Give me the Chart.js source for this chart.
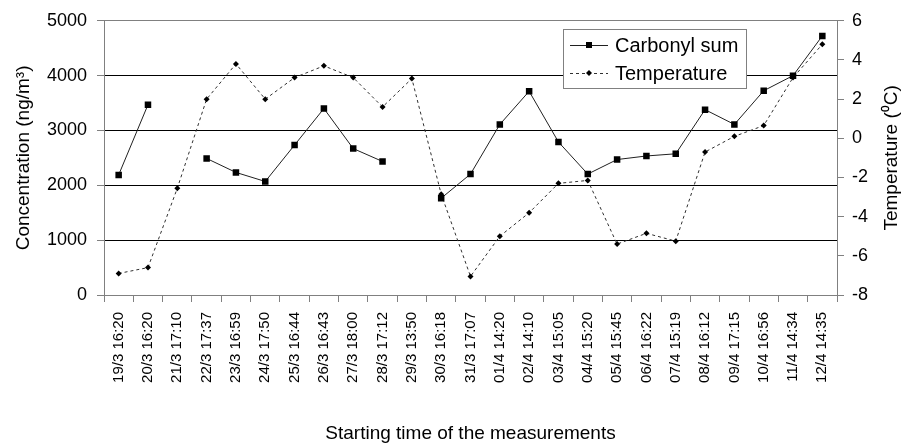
<!DOCTYPE html>
<html>
<head>
<meta charset="utf-8">
<script src="https://cdn.jsdelivr.net/npm/chart.js@4"></script>
<style>
  html, body { margin: 0; padding: 0; background: #fff; }
  #wrap { width: 902px; height: 445px; }
</style>
</head>
<body>
<div id="wrap"><canvas id="chart" width="902" height="445"></canvas></div>
<script>
// Horarios de inicio de cada medición
const categories = [
  '19/3 16:20', '20/3 16:20', '21/3 17:10', '22/3 17:37', '23/3 16:59',
  '24/3 17:50', '25/3 16:44', '26/3 16:43', '27/3 18:00', '28/3 17:12',
  '29/3 13:50', '30/3 16:18', '31/3 17:07', '01/4 14:20', '02/4 14:10',
  '03/4 15:05', '04/4 15:20', '05/4 15:45', '06/4 16:22', '07/4 15:19',
  '08/4 16:12', '09/4 17:15', '10/4 16:56', '11/4 14:34', '12/4 14:35'
];

// Suma de carbonilos (ng/m3), null = sin medición
const carbonylSum = [
  2190, 3470, null, 2490, 2235, 2070, 2735, 3400, 2670, 2435,
  null, 1765, 2205, 3110, 3715, 2790, 2205, 2470, 2535, 2575,
  3380, 3110, 3725, 4000, 4725
];

// Temperatura (°C)
const temperature = [
  -6.9, -6.6, -2.55, 2.0, 3.8, 2.0, 3.1, 3.7, 3.1, 1.6,
  3.05, -2.85, -7.05, -5.0, -3.8, -2.3, -2.15, -5.4, -4.85, -5.25,
  -0.7, 0.1, 0.65, 3.1, 4.8
];

const leftTicks = { min: 0, max: 5000, step: 1000 };
const rightTicks = { min: -8, max: 6, step: 2 };

const FONT = '"Liberation Sans", Arial, sans-serif';
const axisGray = '#808080';

// Leyenda dibujada dentro del área del gráfico
const legendBox = {
  id: 'legendBox',
  afterDraw(chart) {
    const ctx = chart.ctx;
    const x = 563, y = 29, w = 183, h = 59;
    ctx.save();
    ctx.fillStyle = '#fff';
    ctx.fillRect(x, y, w, h);
    ctx.strokeStyle = axisGray;
    ctx.lineWidth = 1;
    ctx.strokeRect(x + 0.5, y + 0.5, w, h);

    chart.data.datasets.forEach((ds, i) => {
      const cy = y + 16 + i * 28;
      ctx.strokeStyle = ds.borderColor;
      ctx.lineWidth = 1;
      ctx.setLineDash(ds.borderDash || []);
      ctx.beginPath();
      ctx.moveTo(570, cy + 0.5);
      ctx.lineTo(608, cy + 0.5);
      ctx.stroke();
      ctx.setLineDash([]);
      ctx.fillStyle = '#000';
      if (ds.pointStyle === 'rect') {
        ctx.fillRect(586, cy - 3, 6, 6);
      } else {
        ctx.beginPath();
        ctx.moveTo(589, cy - 3);
        ctx.lineTo(592, cy);
        ctx.lineTo(589, cy + 3);
        ctx.lineTo(586, cy);
        ctx.closePath();
        ctx.fill();
      }
      ctx.fillStyle = '#000';
      ctx.font = '20px ' + FONT;
      ctx.textAlign = 'left';
      ctx.textBaseline = 'middle';
      ctx.fillText(ds.label, 615, cy + 1);
    });
    ctx.restore();
  }
};

// Título del eje derecho, leído de abajo hacia arriba
const rightTitle = {
  id: 'rightTitle',
  afterDraw(chart) {
    const ctx = chart.ctx;
    const area = chart.chartArea;
    ctx.save();
    ctx.translate(892, (area.top + area.bottom) / 2);
    ctx.rotate(-Math.PI / 2);
    ctx.fillStyle = '#000';
    ctx.font = '19px ' + FONT;
    ctx.textAlign = 'center';
    ctx.textBaseline = 'middle';
    ctx.fillText('Temperature (\u2070C)', 0, 0);
    ctx.restore();
  }
};

new Chart(document.getElementById('chart'), {
  type: 'line',
  data: {
    labels: categories,
    datasets: [{
      label: 'Carbonyl sum',
      data: carbonylSum,
      yAxisID: 'y',
      borderColor: '#202020',
      borderWidth: 1,
      pointStyle: 'rect',
      pointRadius: 4.6,
      pointBackgroundColor: '#000',
      pointBorderColor: '#000',
      pointBorderWidth: 0,
      spanGaps: false,
      tension: 0
    }, {
      label: 'Temperature',
      data: temperature,
      yAxisID: 'y1',
      borderColor: '#303030',
      borderWidth: 1,
      borderDash: [3, 3],
      pointStyle: 'rectRot',
      pointRadius: 3,
      pointBackgroundColor: '#000',
      pointBorderColor: '#000',
      pointBorderWidth: 0,
      tension: 0
    }]
  },
  options: {
    responsive: false,
    animation: false,
    events: [],
    layout: { padding: { top: 19, bottom: 0, left: 0, right: 0 } },
    plugins: {
      legend: { display: false },
      tooltip: { enabled: false }
    },
    scales: {
      x: {
        offset: true,
        grid: {
          offset: true,
          drawOnChartArea: false,
          tickLength: 7,
          tickColor: axisGray
        },
        border: { color: axisGray },
        ticks: {
          autoSkip: false,
          minRotation: 90,
          maxRotation: 90,
          padding: 10,
          color: '#000',
          font: { family: FONT, size: 15 }
        },
        title: {
          display: true,
          text: 'Starting time of the measurements',
          color: '#000',
          font: { family: FONT, size: 19 },
          padding: { top: 0, bottom: 0 }
        },
        afterFit: scale => { scale.height = 150; }
      },
      y: {
        position: 'left',
        min: leftTicks.min,
        max: leftTicks.max,
        ticks: {
          stepSize: leftTicks.step,
          padding: 10,
          color: '#000',
          font: { family: FONT, size: 18 },
          callback: value => String(value)
        },
        grid: {
          color: ctx => (ctx.tick.value === leftTicks.min || ctx.tick.value === leftTicks.max) ? axisGray : '#000',
          tickLength: 7,
          tickColor: axisGray
        },
        border: { color: axisGray },
        title: {
          display: true,
          text: 'Concentration (ng/m\u00B3)',
          color: '#000',
          font: { family: FONT, size: 19 },
          padding: { top: 12, bottom: 0 }
        },
        afterFit: scale => { scale.width = 104; }
      },
      y1: {
        position: 'right',
        min: rightTicks.min,
        max: rightTicks.max,
        ticks: {
          stepSize: rightTicks.step,
          padding: 8,
          color: '#000',
          font: { family: FONT, size: 18 },
          callback: value => String(value)
        },
        grid: {
          drawOnChartArea: false,
          tickLength: 7,
          tickColor: axisGray
        },
        border: { color: axisGray },
        afterFit: scale => { scale.width = 65; }
      }
    }
  },
  plugins: [legendBox, rightTitle]
});
</script>
</body>
</html>
